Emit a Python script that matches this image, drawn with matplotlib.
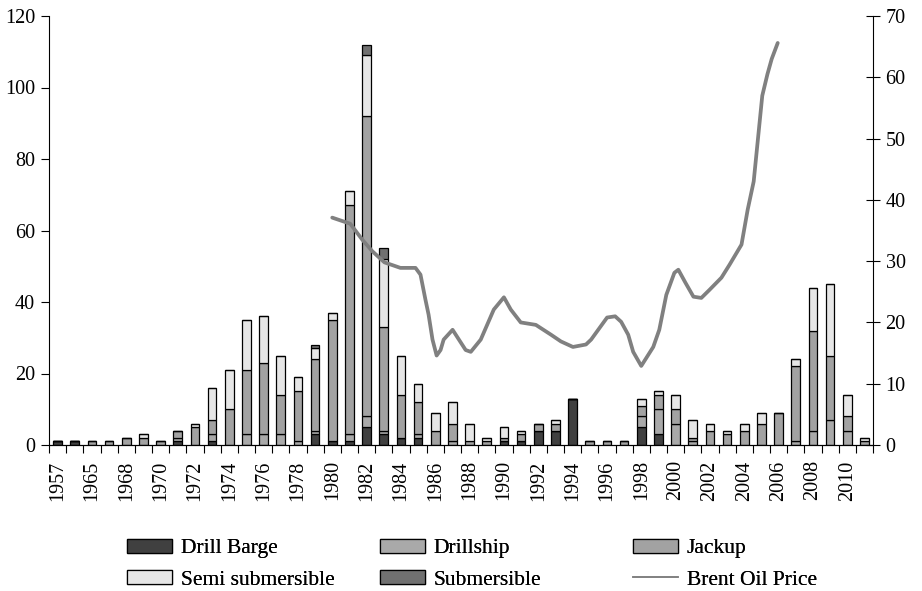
import numpy as np
import matplotlib
matplotlib.use("Agg")
import matplotlib.pyplot as plt
from matplotlib.patches import Patch
from matplotlib.lines import Line2D

plt.rcParams['font.family'] = ['Liberation Serif', 'DejaVu Serif']

# delivery years (categories on the bar axis)
years = ['1957', '1963', '1965', '1967', '1968', '1969'] + [str(y) for y in range(1970, 2012)]

drill_barge = [1, 1, 0, 0, 0, 0, 0, 1, 0, 1, 0, 0, 0, 0, 0, 3, 1, 1, 5, 3, 2, 2, 0, 0,
               0, 0, 1, 1, 4, 4, 13, 0, 0, 0, 5, 3, 0, 0, 0, 0, 0, 0, 0, 0, 0, 0, 0, 0]
drillship = [0, 0, 0, 0, 0, 0, 0, 1, 0, 2, 0, 3, 3, 3, 1, 1, 0, 2, 3, 1, 0, 1, 0, 1,
             0, 0, 0, 0, 0, 0, 0, 0, 0, 0, 3, 7, 6, 1, 0, 0, 0, 0, 0, 1, 4, 7, 4, 0]
jackup = [0, 0, 1, 1, 2, 2, 1, 2, 5, 4, 10, 18, 20, 11, 14, 20, 34, 64, 84, 29, 12, 9, 4, 5,
          1, 1, 1, 2, 2, 2, 0, 1, 1, 1, 3, 4, 4, 1, 4, 3, 4, 6, 9, 21, 28, 18, 4, 1]
semi_sub = [0, 0, 0, 0, 0, 1, 0, 0, 1, 9, 11, 14, 13, 11, 4, 3, 2, 4, 17, 19, 11, 5, 5, 6,
            5, 1, 3, 1, 0, 1, 0, 0, 0, 0, 2, 1, 4, 5, 2, 1, 2, 3, 0, 2, 12, 20, 6, 1]
submersible = [0, 0, 0, 0, 0, 0, 0, 0, 0, 0, 0, 0, 0, 0, 0, 1, 0, 0, 3, 3, 0, 0, 0, 0,
               0, 0, 0, 0, 0, 0, 0, 0, 0, 0, 0, 0, 0, 0, 0, 0, 0, 0, 0, 0, 0, 0, 0, 0]

# Brent price, USD/bbl
oil_year = [1980.0, 1981.05, 1981.75, 1982.34, 1983.04, 1983.97, 1984.85, 1985.14, 1985.43,
            1985.61, 1985.84, 1986.08, 1986.31, 1986.49, 1987.01, 1987.77, 1988.07, 1988.65,
            1989.41, 1990.0, 1990.4, 1990.98, 1991.86, 1992.74, 1993.32, 1994.02, 1994.78,
            1995.08, 1996.01, 1996.48, 1996.83, 1997.24, 1997.53, 1998.0, 1998.7, 1999.05,
            1999.46, 1999.93, 2000.16, 2000.57, 2001.04, 2001.5, 2001.97, 2002.67, 2003.14,
            2003.84, 2004.2, 2004.55, 2004.8, 2005.05, 2005.35, 2005.6, 2005.95]
oil_price = [37.1, 36.1, 33.5, 31.6, 29.8, 28.9, 28.9, 27.8, 23.7, 21.3, 17.2, 14.6, 15.5,
             17.2, 18.8, 15.5, 15.2, 17.2, 22.1, 24.1, 22.1, 20.0, 19.6, 18.0, 16.9, 16.0,
             16.4, 17.2, 20.8, 21.0, 20.1, 18.0, 15.2, 12.9, 16.0, 18.8, 24.5, 28.1, 28.6,
             26.5, 24.2, 24.0, 25.3, 27.3, 29.4, 32.7, 38.4, 43.0, 50.0, 57.0, 60.5, 63.0, 65.6]

series = [
    ('Drill Barge', drill_barge, '#404040'),
    ('Drillship', drillship, '#a9a9a9'),
    ('Jackup', jackup, '#a2a2a2'),
    ('Semi submersible', semi_sub, '#e6e6e6'),
    ('Submersible', submersible, '#707070'),
]

fig = plt.figure(figsize=(9.22, 5.91), dpi=100)
ax = fig.add_axes([49 / 922, 1 - 445 / 591, 824 / 922, 429 / 591])

x = np.arange(len(years))
bottom = np.zeros(len(years))
for name, vals, col in series:
    vals = np.array(vals, dtype=float)
    ax.bar(x, vals, 0.5, bottom=bottom, color=col, edgecolor='black', linewidth=0.9,
           label=name, zorder=2)
    bottom += vals

ax.set_xlim(-0.5, len(years) - 0.5)
ax.set_ylim(0, 120)
ax.set_yticks(range(0, 121, 20))
ax.tick_params(axis='y', direction='out', length=6, labelsize=14.5, pad=4)

# tick marks between categories, labels on every second year
ax.set_xticks(np.arange(-0.5, len(years), 1.0))
ax.set_xticklabels([])
ax.tick_params(axis='x', which='major', direction='out', length=6)
ax.set_xticks(x[::2], minor=True)
ax.set_xticklabels(years[::2], minor=True, rotation=90, fontsize=14.5)
ax.tick_params(axis='x', which='minor', length=0, pad=11)

ax.spines['top'].set_visible(False)
ax.spines['right'].set_visible(False)

# oil price on the secondary axis
ax2 = ax.twinx()
oil_pos = np.array(oil_year) - 1964
ax2.plot(oil_pos, oil_price, color='#808080', linewidth=2.7, zorder=3,
         solid_joinstyle='round', solid_capstyle='round')
ax2.set_ylim(0, 70)
ax2.set_yticks(range(0, 71, 10))
ax2.tick_params(axis='y', direction='inout', length=10, labelsize=14.5, pad=4)
ax2.spines['top'].set_visible(False)
ax2.spines['left'].set_visible(False)
ax2.set_xlim(ax.get_xlim())

handles = {name: Patch(facecolor=col, edgecolor='black', linewidth=0.9)
           for name, _, col in series}
handles['Brent Oil Price'] = Line2D([], [], color='#808080', linewidth=1.2)

# three equal-width legend columns
columns = [
    (127, ['Drill Barge', 'Semi submersible']),
    (380, ['Drillship', 'Submersible']),
    (633, ['Jackup', 'Brent Oil Price']),
]
for xpix, names in columns:
    leg = fig.legend([handles[n] for n in names], names, loc='upper left',
                     bbox_to_anchor=(xpix / 922, 1 - 539 / 591), frameon=False,
                     fontsize=15.5, handlelength=2.1, handleheight=0.6,
                     handletextpad=0.4, labelspacing=0.55, borderpad=0, borderaxespad=0)
    fig.add_artist(leg)

fig.savefig('out.png', dpi=100)
